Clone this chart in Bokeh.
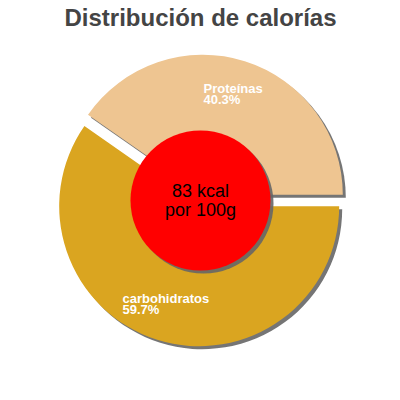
import math
from bokeh.plotting import figure
from bokeh.models import Range1d, ColumnDataSource
from bokeh.core.properties import value
from bokeh.embed import file_html
from bokeh.resources import INLINE

# ---- data ----
categories = ["Proteínas", "carbohidratos"]
percents = [40.3, 59.7]
colors = ["#EEC591", "#DAA520"]
title_text = "Distribución de calorías"
center_lines = ["83 kcal", "por 100g"]

# ---- layout ----
W = H = 384
cx, cy = 192.5, 192.0
R = 140
explode = 6
shadow_dx, shadow_dy = 3, -3
shadow_color = "#666666"

p = figure(width=W, height=H, output_backend="svg", toolbar_location=None,
           x_range=Range1d(-8, W - 8), y_range=Range1d(8, H + 8), min_border=0)
p.axis.visible = False
p.grid.visible = False
p.outline_line_color = None
p.background_fill_color = "white"
p.border_fill_color = "white"

total = sum(percents)
starts, ends, xs, ys = [], [], [], []
acc = 0.0
for v in percents:
    a0 = acc / total * 2 * math.pi
    acc += v
    a1 = acc / total * 2 * math.pi
    mid = (a0 + a1) / 2
    starts.append(a0)
    ends.append(a1)
    xs.append(cx + explode * math.cos(mid))
    ys.append(cy + explode * math.sin(mid))

src = ColumnDataSource(dict(x=xs, y=ys, sx=[x + shadow_dx for x in xs],
                            sy=[y + shadow_dy for y in ys],
                            start=starts, end=ends, color=colors))

p.wedge(x="sx", y="sy", radius=R, start_angle="start", end_angle="end",
        direction="anticlock", source=src, fill_color=shadow_color,
        line_color=None, fill_alpha=0.9)
p.wedge(x="x", y="y", radius=R, start_angle="start", end_angle="end",
        direction="anticlock", source=src, fill_color="color",
        line_color=None)

# center circle
p.circle(x=[cx - 0.5 + shadow_dx], y=[cy + shadow_dy], radius=70,
         fill_color=shadow_color, line_color=None, fill_alpha=0.9)
p.circle(x=[cx - 0.5], y=[cy], radius=70, fill_color="#FF0000", line_color=None)

# center text
p.text(x=[cx - 0.5], y=[202], text=[center_lines[0]], text_align="center",
       text_baseline="alphabetic", text_font=value("Liberation Sans"),
       text_font_size="18px", text_color="black")
p.text(x=[cx - 0.5], y=[183], text=[center_lines[1]], text_align="center",
       text_baseline="alphabetic", text_font=value("Liberation Sans"),
       text_font_size="18px", text_color="black")

# slice labels
label_pos = [(195, 304), (114, 94)]
for (lx, ly), name, pct in zip(label_pos, categories, percents):
    p.text(x=[lx], y=[ly], text=[name], text_align="left",
           text_baseline="alphabetic", text_font=value("Liberation Sans"),
           text_font_size="13px", text_font_style="bold", text_color="white")
    p.text(x=[lx], y=[ly - 11], text=[f"{pct:.1f}%"], text_align="left",
           text_baseline="alphabetic", text_font=value("Liberation Sans"),
           text_font_size="13px", text_font_style="bold", text_color="white")

# title
p.text(x=[192], y=[375], text=[title_text], text_align="center",
       text_baseline="alphabetic", text_font=value("Liberation Sans"),
       text_font_size="24px", text_font_style="bold", text_color="#444444")

open("out.html", "w").write(file_html(p, INLINE))
